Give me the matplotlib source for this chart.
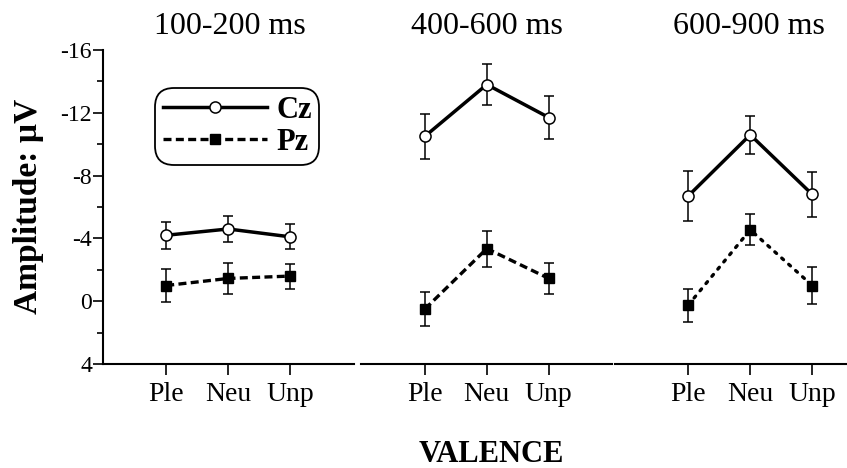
import matplotlib
matplotlib.use('Agg')
import matplotlib.pyplot as plt
from matplotlib.lines import Line2D

# data (amplitude in microvolts, negative up)
valence = ["Ple", "Neu", "Unp"]
windows = ["100-200 ms", "400-600 ms", "600-900 ms"]

cz_mean = [[-4.2, -4.6, -4.1], [-10.5, -13.8, -11.7], [-6.7, -10.6, -6.8]]
cz_err = [[0.85, 0.8, 0.8], [1.45, 1.3, 1.4], [1.6, 1.2, 1.45]]
pz_mean = [[-1.0, -1.45, -1.6], [0.5, -3.35, -1.45], [0.25, -4.55, -1.0]]
pz_err = [[1.05, 1.0, 0.8], [1.1, 1.15, 1.0], [1.05, 1.0, 1.2]]

yticks = [-16, -12, -8, -4, 0, 4]
yminor = [-14, -10, -6, -2, 2]

plt.rcParams['font.family'] = ['Liberation Serif', 'DejaVu Serif']
plt.rcParams['axes.unicode_minus'] = False

W, H = 847, 468
fig = plt.figure(figsize=(W / 100, H / 100), dpi=100)

# panel placement in pixels: (left, right), plus x limits
panel_px = [(103, 354), (361, 612), (615, 847)]
panel_xlim = [(-0.02, 4.03), (-0.03, 4.02), (-0.18, 3.56)]
title_px = [230, 487, 749]
top_px, bottom_px = 50, 364

pz_styles = [(0, (2.4, 1.3)), (0, (2.4, 1.3)), (0, (0.7, 2.1))]
pz_caps = ['butt', 'butt', 'round']

x = [1, 2, 3]
axes = []
for i in range(3):
    l, r = panel_px[i]
    ax = fig.add_axes([l / W, 1 - bottom_px / H, (r - l) / W, (bottom_px - top_px) / H])
    axes.append(ax)
    ax.set_xlim(*panel_xlim[i])
    ax.set_ylim(4, -16)

    ax.errorbar(x, cz_mean[i], yerr=cz_err[i], fmt='none', ecolor='black',
                elinewidth=1.1, capsize=3.5, capthick=1.1, zorder=2)
    ax.errorbar(x, pz_mean[i], yerr=pz_err[i], fmt='none', ecolor='black',
                elinewidth=1.1, capsize=3.5, capthick=1.1, zorder=2)
    ax.plot(x, cz_mean[i], color='black', lw=2.5, marker='o', ms=8,
            mfc='white', mec='black', mew=1.1, zorder=3, label='Cz')
    ax.plot(x, pz_mean[i], color='black', lw=2.4, ls=pz_styles[i],
            dash_capstyle=pz_caps[i], marker='s', ms=7.5, mfc='black',
            mec='black', zorder=3, label='Pz')

    for s in ['top', 'right']:
        ax.spines[s].set_visible(False)
    ax.spines['bottom'].set_linewidth(1.5)
    ax.set_xticks(x)
    ax.set_xticklabels(valence, fontsize=20)
    ax.tick_params(axis='x', direction='out', length=8, width=1.2, pad=5)

    if i == 0:
        ax.spines['left'].set_linewidth(1.5)
        ax.set_yticks(yticks)
        ax.set_yticklabels([str(v) for v in yticks], fontsize=17)
        ax.set_yticks(yminor, minor=True)
        ax.tick_params(axis='y', which='major', direction='out', length=7, width=1.2, pad=1)
        ax.tick_params(axis='y', which='minor', direction='out', length=4, width=1.2)
    else:
        ax.spines['left'].set_visible(False)
        ax.set_yticks([])

    fig.text(title_px[i] / W, 1 - 26 / H, windows[i], fontsize=23,
             ha='center', va='center')

# legend
handles = [
    Line2D([], [], color='black', lw=2.5, marker='o', ms=8, mfc='white', mec='black', mew=1.1),
    Line2D([], [], color='black', lw=2.4, ls=(0, (2.4, 1.3)), marker='s', ms=7.5, mfc='black'),
]
leg = axes[0].legend(handles, ['Cz', 'Pz'], loc='upper left',
                     bbox_to_anchor=(160 / W, 1 - 93 / H), bbox_transform=fig.transFigure,
                     borderaxespad=0, fancybox=True, framealpha=1, edgecolor='black',
                     prop={'weight': 'bold', 'size': 22}, handlelength=3.4,
                     handletextpad=0.3, labelspacing=0.1, borderpad=0.1)
leg.get_frame().set_linewidth(1.3)
leg.get_frame().set_boxstyle('round,pad=0.15,rounding_size=0.6')

fig.text(28 / W, 1 - 206 / H, 'Amplitude: \u00b5V', fontsize=24, fontweight='bold',
         rotation=90, ha='center', va='center')
fig.text(491 / W, 1 - 455 / H, 'VALENCE', fontsize=22, fontweight='bold',
         ha='center', va='center')

fig.savefig('out.png', dpi=100)
